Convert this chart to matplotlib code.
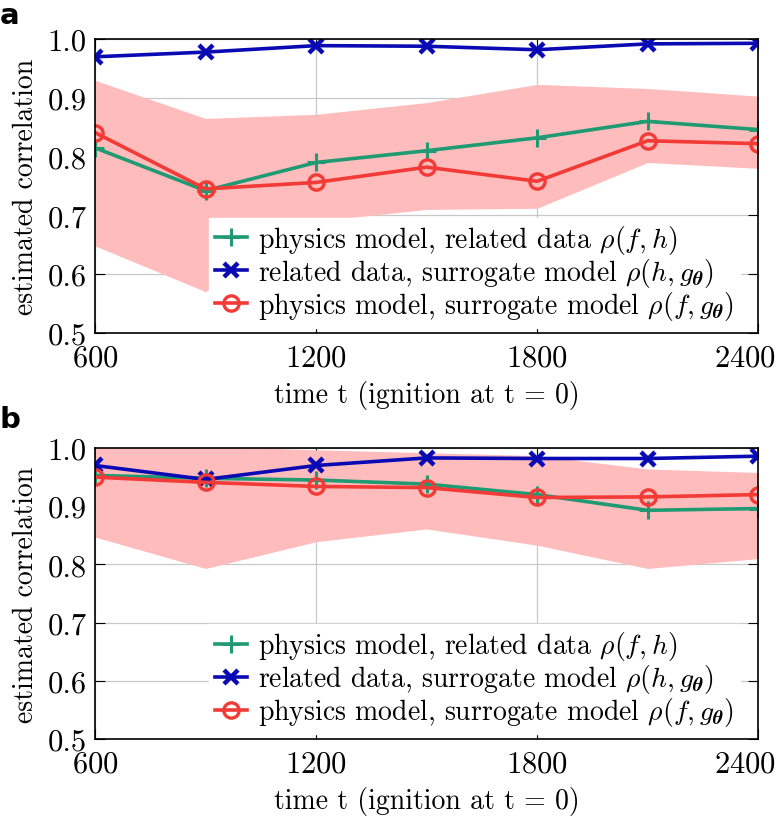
import matplotlib
matplotlib.use("Agg")
import matplotlib.pyplot as plt
from matplotlib.transforms import ScaledTranslation

t = [600, 900, 1200, 1500, 1800, 2100, 2400]

a_green = [0.815, 0.742, 0.790, 0.810, 0.832, 0.860, 0.846]
a_blue = [0.970, 0.978, 0.989, 0.988, 0.982, 0.992, 0.993]
a_red = [0.841, 0.745, 0.756, 0.782, 0.758, 0.827, 0.822]
a_band_hi = [0.930, 0.865, 0.872, 0.892, 0.923, 0.916, 0.903]
a_band_lo = [0.648, 0.570, 0.690, 0.710, 0.712, 0.790, 0.780]

b_green = [0.953, 0.948, 0.945, 0.938, 0.920, 0.893, 0.896]
b_blue = [0.970, 0.946, 0.970, 0.983, 0.982, 0.982, 0.986]
b_red = [0.950, 0.941, 0.934, 0.932, 0.915, 0.916, 0.920]
b_band_hi = [1.005, 1.003, 0.997, 0.992, 0.987, 0.964, 0.958]
b_band_lo = [0.847, 0.793, 0.839, 0.861, 0.833, 0.793, 0.810]

labels = [r'physics model, related data $\rho(f,h)$',
          r'related data, surrogate model $\rho(h,g_{\boldsymbol{\theta}})$',
          r'physics model, surrogate model $\rho(f,g_{\boldsymbol{\theta}})$']
xticks = [600, 1200, 1800, 2400]
yticks = [0.5, 0.6, 0.7, 0.8, 0.9, 1.0]

plt.rcParams['font.family'] = 'serif'
plt.rcParams['font.serif'] = ['cmr10', 'DejaVu Serif']
plt.rcParams['mathtext.fontset'] = 'cm'
plt.rcParams['axes.formatter.use_mathtext'] = True

GREEN = '#1f9a72'
BLUE = '#0a0ab4'
RED = '#f23a36'
BAND = '#ffbcbc'

fig = plt.figure(figsize=(7.76, 8.2), dpi=100)
ax_a = fig.add_axes([0.1224, 0.593, 0.8546, 0.358])
ax_b = fig.add_axes([0.1224, 0.0976, 0.8546, 0.3548])

def draw(ax, g, bl, r, hi, lo):
    ax.fill_between(t, lo, hi, color=BAND, lw=0, zorder=1)
    ax.grid(True, color='#c8c8c8', lw=0.9, zorder=0)
    ax.set_axisbelow(True)
    ax.plot(t, g, color=GREEN, lw=2.6, marker='+', ms=13, mew=2.2, zorder=3, label=labels[0])
    ax.plot(t, bl, color=BLUE, lw=2.6, marker='x', ms=10, mew=3.2, zorder=3, label=labels[1])
    ax.plot(t, r, color=RED, lw=2.6, marker='o', ms=11, mew=2.4, mfc='none', zorder=3, label=labels[2])
    ax.set_xlim(600, 2400)
    ax.set_ylim(0.5, 1.0)
    ax.set_xticks(xticks)
    ax.set_yticks(yticks)
    ax.set_yticklabels([f'{v:.1f}' for v in yticks])
    ax.tick_params(direction='in', top=True, right=True, labelsize=22, length=7, pad=6)
    ax.tick_params(axis='x', pad=8)
    lbls = ax.get_xticklabels()
    lbls[-1].set_transform(lbls[-1].get_transform() + ScaledTranslation(-13/100, 0, fig.dpi_scale_trans))
    ax.set_xlabel('time t (ignition at t = 0)', fontsize=20, labelpad=6)
    ax.set_ylabel('estimated correlation', fontsize=20, labelpad=6)
    for s in ax.spines.values():
        s.set_linewidth(1.2)
        s.set_zorder(6)
    leg = ax.legend(loc='lower right', bbox_to_anchor=(0.993, -0.03), fontsize=20,
                    handlelength=1.15, handletextpad=0.4, labelspacing=0.0,
                    borderpad=0.2, frameon=True, fancybox=False)
    leg.get_frame().set_edgecolor('white')
    leg.get_frame().set_alpha(1.0)
    leg.set_zorder(5)

draw(ax_a, a_green, a_blue, a_red, a_band_hi, a_band_lo)
draw(ax_b, b_green, b_blue, b_red, b_band_hi, b_band_lo)

fig.text(0.0, 0.997, 'a', fontsize=21, fontweight='bold', family='DejaVu Sans', va='top')
fig.text(0.0, 0.505, 'b', fontsize=21, fontweight='bold', family='DejaVu Sans', va='top')

fig.savefig('out.png', dpi=100)
